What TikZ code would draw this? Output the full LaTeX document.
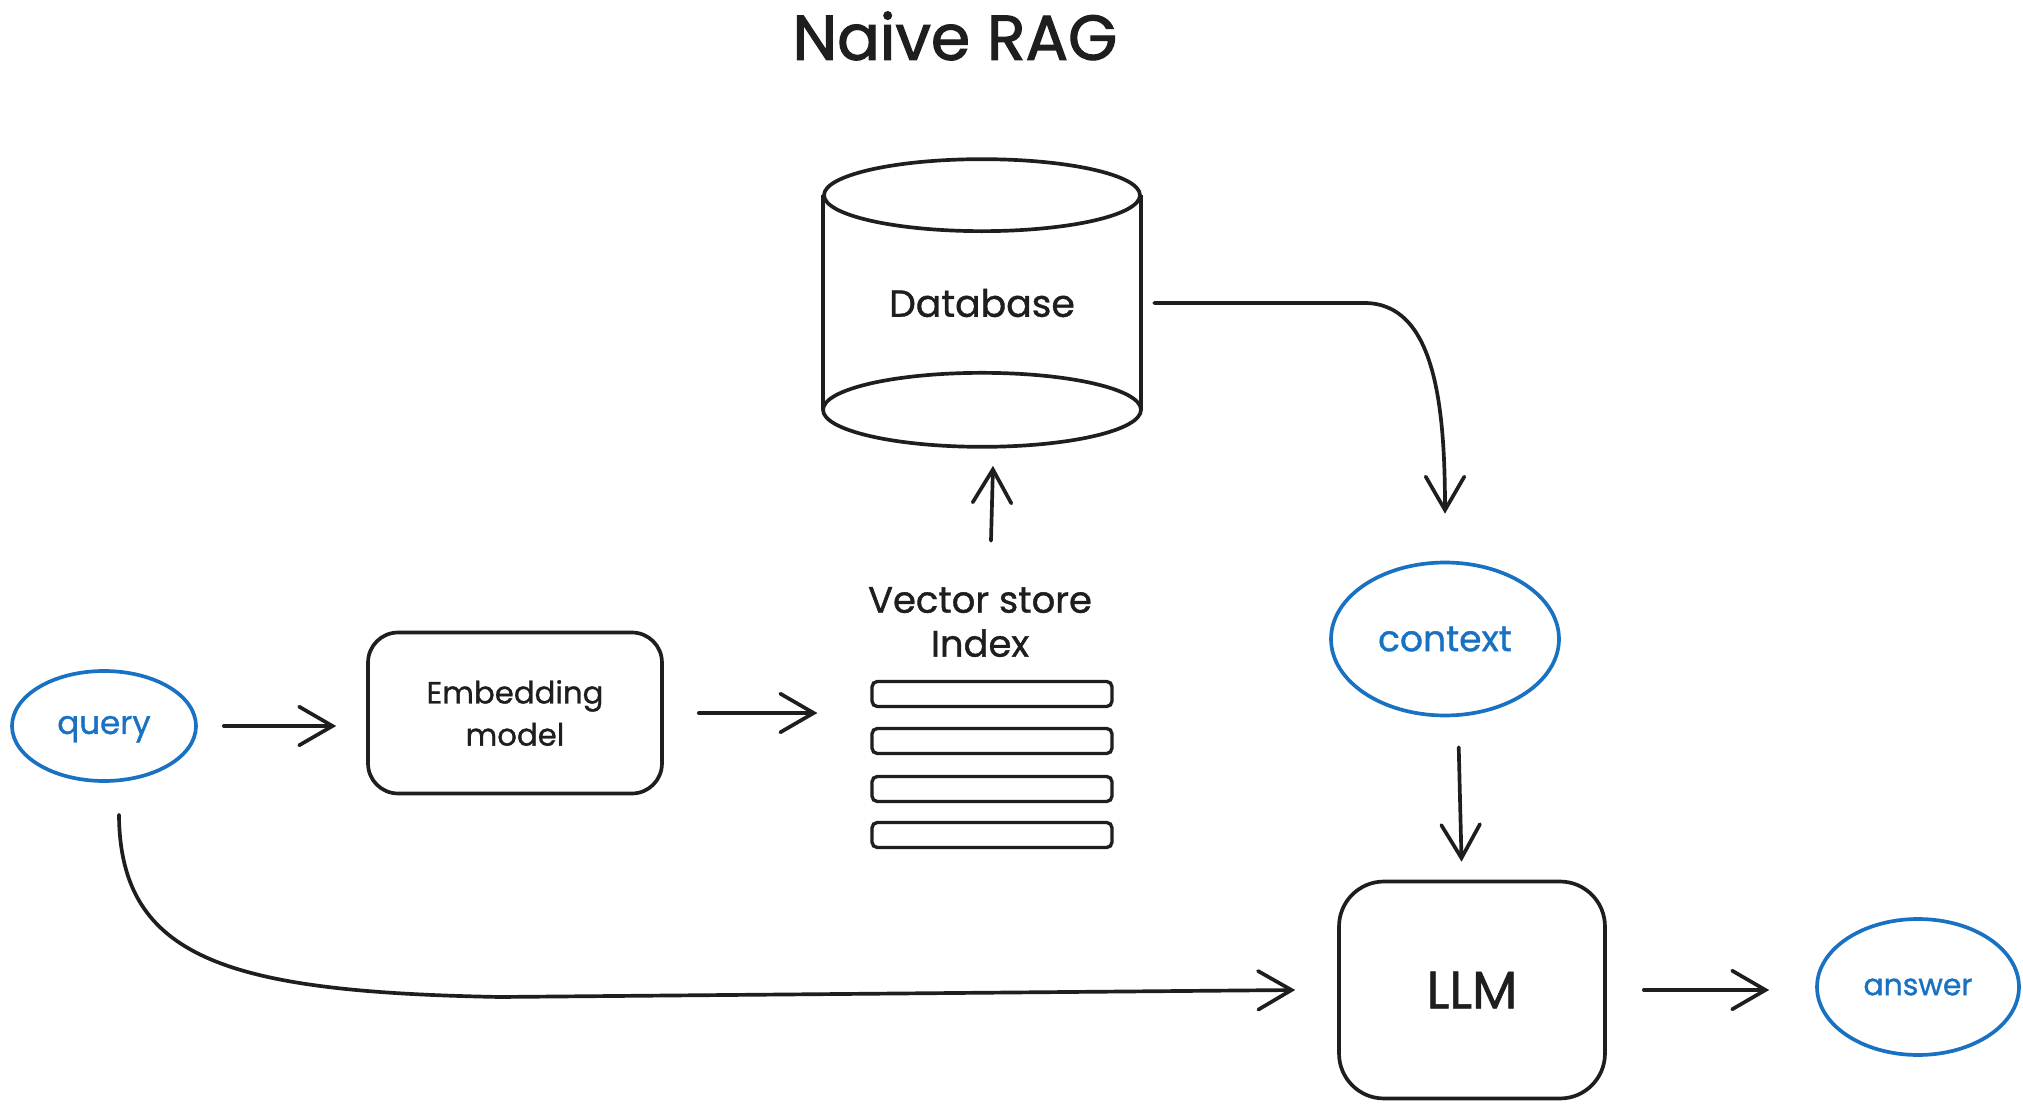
\documentclass[tikz,border=0pt]{standalone}
\usepackage{fontspec}
\setmainfont{Poppins}[FakeBold=1]
\newfontfamily\titlefont{Poppins}[FakeBold=1.8]
\usetikzlibrary{shapes.geometric,arrows.meta}
\definecolor{inkc}{HTML}{1E1E1E}
\definecolor{bluec}{HTML}{1971C2}
\tikzset{
  ink/.style={draw=inkc, line width=2.1pt},
  blob/.style={ellipse, draw=bluec, line width=2.1pt, text=bluec, inner sep=0pt},
  boxnode/.style={draw=inkc, line width=2.1pt, inner sep=0pt, text=inkc, align=center},
  bar/.style={draw=inkc, line width=1.9pt, rounded corners=3pt, minimum width=4.8cm, minimum height=0.5cm, inner sep=0pt},
  arr/.style={draw=inkc, line width=2.1pt, line cap=round, -{Straight Barb[length=19pt,width=22pt,line cap=round]}},
}
\begin{document}
\begin{tikzpicture}[x=0.02cm,y=-0.02cm]
\useasboundingbox[fill=white] (0,0) rectangle (2023,1104);

% title
\node[text=inkc, font=\titlefont\fontsize{36}{40}\selectfont] (title) at (955,36) {Naive RAG};

% database cylinder
\node[minimum width=6.36cm, minimum height=5.74cm, inner sep=0pt, text=inkc,
      font=\fontsize{21.5}{26}\selectfont] (db) at (982,303) {Database};
\draw[ink] ([yshift=-0.72cm]db.north) ellipse [x radius=3.16cm, y radius=0.72cm];
\draw[ink] ([yshift=0.74cm]db.south) ellipse [x radius=3.18cm, y radius=0.74cm];
\draw[ink] ([yshift=-0.72cm]db.north west) -- ([yshift=0.74cm]db.south west);
\draw[ink] ([yshift=-0.72cm]db.north east) -- ([yshift=0.74cm]db.south east);

% vector store
\node[text=inkc, align=center, font=\fontsize{21}{25}\selectfont] (vs) at (980,622) {Vector store\\Index};
\node[bar] (b1) at (992,694) {};
\node[bar] (b2) at (992,741) {};
\node[bar] (b3) at (992,789) {};
\node[bar] (b4) at (992,835) {};

% embedding model
\node[boxnode, rounded corners=0.6cm, minimum width=5.88cm, minimum height=3.22cm,
      font=\fontsize{17.5}{24}\selectfont] (emb) at (515,713) {Embedding\\model};

% query
\node[blob, minimum width=3.68cm, minimum height=2.2cm, font=\fontsize{18.5}{22}\selectfont] (query) at (104,726) {\raisebox{-0.16cm}[0pt][0pt]{query}};

% context
\node[blob, minimum width=4.56cm, minimum height=3.06cm, font=\fontsize{20.5}{24}\selectfont] (ctx) at (1445,639) {context};

% LLM
\node[boxnode, rounded corners=0.9cm, minimum width=5.32cm, minimum height=4.34cm,
      font=\fontsize{30}{34}\selectfont] (llm) at (1472,990) {LLM};

% answer
\node[blob, minimum width=4.04cm, minimum height=2.72cm, font=\fontsize{17}{20}\selectfont] (ans) at (1918,987) {answer};

% connectors
\draw[arr, shorten <=0.52cm, shorten >=0.6cm] (query.east) -- (query.east -| emb.west);
\draw[arr, shorten <=0.7cm, shorten >=1.06cm] (emb.east) -- (emb.east -| b1.west);
\draw[arr] ([xshift=0.22cm,yshift=0.8cm]vs.north) -- ([xshift=0.22cm,yshift=-0.38cm]db.south);
\draw[arr] ([xshift=0.26cm]db.east) -- ++(210,0) .. controls +(70,0) and +(0,-110) .. ([yshift=0.94cm]ctx.north);
\draw[arr, shorten <=0.6cm, shorten >=0.36cm] ([xshift=0.26cm]ctx.south) -- ([xshift=-0.2cm]llm.north);
\draw[arr, shorten <=0.74cm, shorten >=0.92cm] (llm.east) -- (llm.east -| ans.west);
\draw[arr] ([xshift=0.3cm,yshift=-0.64cm]query.south) .. controls (120,960) and (230,992) .. (500,997) -- ([xshift=-0.84cm]llm.west);
\end{tikzpicture}
\end{document}
